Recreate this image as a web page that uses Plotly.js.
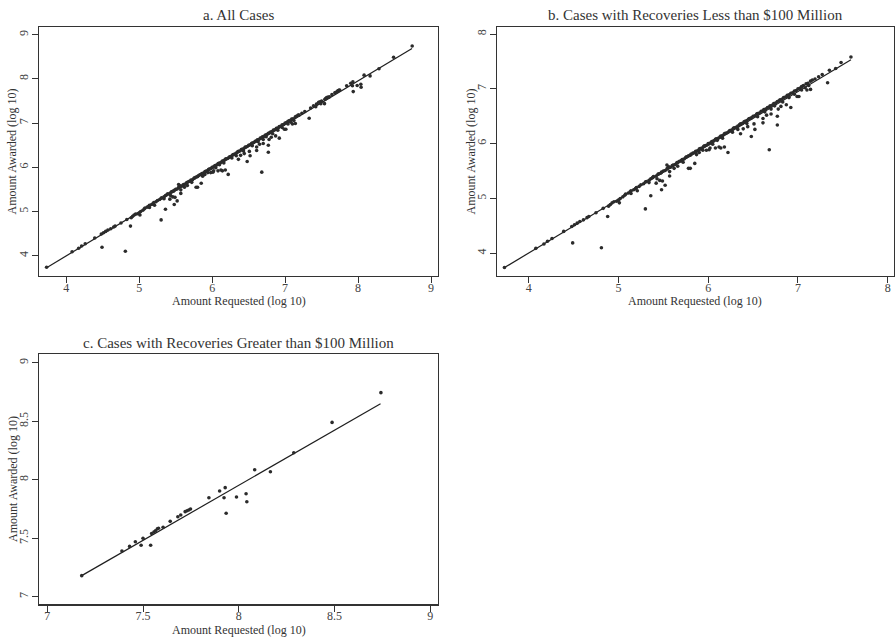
<!DOCTYPE html>
<html>
<head>
<meta charset="utf-8">
<script src="https://cdn.plot.ly/plotly-3.0.1.min.js"></script>
<style>
  html, body { margin: 0; padding: 0; background: #ffffff; }
  #chart { width: 895px; height: 638px; }
</style>
</head>
<body>
<div id="chart"></div>
<script>
// ---- Data: [amount requested, amount awarded], both log10 of dollars ----

// Cases with recoveries less than $100 million: low end, sparse
const smallLow = [
  [3.73,3.74],[4.08,4.09],[4.17,4.17],[4.21,4.22],[4.26,4.27],[4.39,4.40],[4.48,4.49],
  [4.51,4.52],[4.54,4.55],[4.57,4.58],[4.61,4.61],[4.65,4.65],[4.67,4.67],[4.75,4.74],
  [4.83,4.82],[4.89,4.86],[4.91,4.89],[4.93,4.92],[4.95,4.94],[4.98,4.95],[5.00,4.97],[5.02,5.00]
];

// Cases with recoveries less than $100 million: awarded close to requested
const smallBand = [
  [5.05,5.03],[5.07,5.06],[5.08,5.08],[5.11,5.10],[5.13,5.12],[5.14,5.14],[5.17,5.16],[5.19,5.18],
  [5.20,5.20],[5.23,5.22],[5.25,5.25],[5.28,5.27],[5.30,5.30],[5.31,5.31],[5.34,5.33],[5.36,5.36],
  [5.38,5.38],[5.39,5.40],[5.42,5.41],[5.44,5.44],[5.45,5.45],[5.47,5.46],[5.48,5.48],[5.50,5.50],
  [5.52,5.51],[5.54,5.54],[5.55,5.56],[5.56,5.58],[5.58,5.57],[5.60,5.60],[5.61,5.61],[5.63,5.62],
  [5.65,5.65],[5.66,5.66],[5.68,5.68],[5.70,5.69],[5.71,5.71],[5.73,5.72],[5.75,5.75],[5.76,5.76],
  [5.78,5.78],[5.80,5.79],[5.81,5.81],[5.83,5.83],[5.85,5.84],[5.86,5.86],[5.88,5.87],[5.90,5.90],
  [5.91,5.91],[5.93,5.92],[5.95,5.95],[5.96,5.96],[5.98,5.97],[6.00,6.00],[6.01,6.00],[6.03,6.02],
  [6.04,6.04],[6.06,6.05],[6.08,6.08],[6.09,6.09],[6.11,6.10],[6.13,6.12],[6.14,6.14],[6.16,6.15],
  [6.18,6.18],[6.19,6.19],[6.21,6.20],[6.23,6.22],[6.24,6.24],[6.26,6.25],[6.28,6.28],[6.29,6.29],
  [6.31,6.30],[6.33,6.32],[6.35,6.35],[6.36,6.36],[6.38,6.37],[6.40,6.40],[6.41,6.41],[6.43,6.42],
  [6.45,6.45],[6.46,6.46],[6.48,6.47],[6.50,6.50],[6.52,6.51],[6.54,6.54],[6.55,6.55],[6.57,6.56],
  [6.59,6.59],[6.61,6.60],[6.62,6.62],[6.64,6.63],[6.66,6.66],[6.68,6.67],[6.69,6.69],[6.71,6.70],
  [6.73,6.73],[6.75,6.74],[6.77,6.77],[6.79,6.78],[6.80,6.80],[6.82,6.81],[6.84,6.84],[6.86,6.85],
  [6.88,6.88],[6.90,6.89],[6.92,6.92],[6.94,6.93],[6.96,6.96],[6.98,6.97],[7.00,7.00],[7.02,7.01],
  [7.04,7.04],[7.06,7.06],[7.09,7.09],[7.11,7.10],[7.14,7.14],[7.16,7.16],[7.19,7.18],[7.23,7.22],
  [7.27,7.26],[7.35,7.34],[7.42,7.37],[7.48,7.48],[7.59,7.58]
];

// Cases with recoveries less than $100 million: awarded a little below requested
const smallNear = [
  [5.14,5.09],[5.21,5.14],[5.34,5.29],[5.42,5.28],[5.43,5.36],[5.46,5.33],[5.49,5.32],[5.57,5.49],
  [5.62,5.55],[5.66,5.59],[5.72,5.66],[5.87,5.80],[5.90,5.84],[5.94,5.88],[6.05,5.99],[6.10,6.06],
  [6.16,6.10],[6.27,6.21],[6.33,6.26],[6.43,6.37],[6.55,6.49],[6.63,6.58],[6.70,6.63],[6.74,6.69],
  [6.83,6.76],[6.90,6.84],[6.96,6.90],[7.04,6.98],[7.08,7.02],[7.12,7.06],[5.54,5.61]
];

// Cases with recoveries less than $100 million: awarded well below requested
const smallOff = [
  [4.49,4.19],[4.81,4.10],[4.88,4.67],[5.01,4.92],[5.30,4.81],[5.36,5.05],[5.48,5.16],[5.52,5.24],
  [5.57,5.41],[5.78,5.55],[5.80,5.55],[5.85,5.64],[5.98,5.88],[6.01,5.89],[6.02,5.92],[6.08,5.92],
  [6.12,5.94],[6.14,5.92],[6.18,5.94],[6.22,5.84],[6.36,6.18],[6.39,6.27],[6.44,6.31],[6.48,6.13],
  [6.51,6.36],[6.52,6.26],[6.61,6.46],[6.61,6.38],[6.65,6.52],[6.68,5.89],[6.70,6.54],[6.77,6.50],
  [6.77,6.34],[6.78,6.63],[6.81,6.68],[6.87,6.71],[6.92,6.66],[6.99,6.86],[7.01,6.86],[7.10,6.98],
  [7.14,6.99],[7.33,7.11]
];

// Cases with recoveries greater than $100 million
const largeCases = [
  [7.18,7.18],[7.39,7.39],[7.43,7.43],[7.46,7.47],[7.49,7.44],[7.50,7.50],[7.54,7.44],
  [7.545,7.54],[7.557,7.553],[7.565,7.564],[7.575,7.58],[7.581,7.585],[7.605,7.593],
  [7.642,7.644],[7.682,7.684],[7.697,7.698],[7.72,7.727],[7.73,7.735],[7.739,7.741],[7.748,7.75],
  [7.844,7.846],[7.90,7.903],[7.929,7.932],[7.923,7.846],[7.934,7.713],[7.988,7.852],
  [8.038,7.88],[8.042,7.812],[8.083,8.085],[8.165,8.068],[8.287,8.231],[8.487,8.49],[8.742,8.744]
];

// Fitted regression lines (endpoints, log10 requested -> log10 awarded)
const fitAllReq = [3.73, 8.74],   fitAllAward = [3.73, 8.69];
const fitSmallReq = [3.73, 7.59], fitSmallAward = [3.74, 7.53];
const fitLargeReq = [7.18, 8.74], fitLargeAward = [7.18, 8.65];

// Tick values
const ticksAllX = [4, 5, 6, 7, 8, 9],   ticksAllY = [4, 5, 6, 7, 8, 9];
const ticksSmallX = [4, 5, 6, 7, 8],    ticksSmallY = [4, 5, 6, 7, 8];
const ticksLargeX = [7, 7.5, 8, 8.5, 9], ticksLargeY = [7, 7.5, 8, 8.5, 9];

const panelTitles = [
  'a. All Cases',
  'b. Cases with Recoveries Less than $100 Million',
  'c. Cases with Recoveries Greater than $100 Million'
];
const xTitle = 'Amount Requested (log 10)';
const yTitle = 'Amount Awarded (log 10)';

// ---- Drawing ----
const W = 895, H = 638;
const FONT = 'Liberation Serif, "Times New Roman", Times, serif';
const INK = '#2b2b2b';
const px = v => v / W;
const py = v => 1 - v / H;

const smallCases = smallLow.concat(smallBand, smallNear, smallOff);
const allCases = smallCases.concat(largeCases);
const col = (arr, i) => arr.map(p => p[i]);

function pointsTrace(cases, xa, ya) {
  return {
    type: 'scatter', mode: 'markers', xaxis: xa, yaxis: ya,
    x: col(cases, 0), y: col(cases, 1),
    marker: { size: 3.6, color: INK, line: { width: 0 } },
    hoverinfo: 'skip'
  };
}
function fitTrace(xs, ys, xa, ya) {
  return {
    type: 'scatter', mode: 'lines', xaxis: xa, yaxis: ya,
    x: xs, y: ys, line: { color: '#1e1e1e', width: 1.2 }, hoverinfo: 'skip'
  };
}

const data = [
  fitTrace(fitAllReq, fitAllAward, 'x', 'y'),
  pointsTrace(allCases, 'x', 'y'),
  fitTrace(fitSmallReq, fitSmallAward, 'x2', 'y2'),
  pointsTrace(smallCases, 'x2', 'y2'),
  fitTrace(fitLargeReq, fitLargeAward, 'x3', 'y3'),
  pointsTrace(largeCases, 'x3', 'y3')
];

function axis(domain, range, ticks, anchor, isY) {
  const a = {
    domain: domain, range: range, anchor: anchor,
    tickmode: 'array', tickvals: ticks, ticktext: ticks.map(String),
    showline: true, linecolor: '#333', linewidth: 1.4, mirror: true,
    ticks: 'outside', ticklen: 6, tickwidth: 1, tickcolor: '#333',
    showgrid: false, zeroline: false, fixedrange: true,
    tickfont: { family: FONT, size: 12, color: '#444' }
  };
  if (isY) { a.tickangle = -90; a.ticklabelstandoff = -1; }
  else { a.ticklabelstandoff = -6; }
  return a;
}

const topDom = [py(276), py(27)];
const botDom = [py(604.3), py(354.3)];
const leftDom = [px(39), px(438)];
const rightDom = [px(497), px(893.5)];

function ann(text, x, y, size, angle) {
  return {
    text: text, xref: 'paper', yref: 'paper', x: px(x), y: py(y),
    xanchor: 'center', yanchor: 'middle', showarrow: false, textangle: angle || 0,
    font: { family: FONT, size: size, color: '#333' }
  };
}

const layout = {
  width: W, height: H,
  margin: { l: 0, r: 0, t: 0, b: 0 },
  paper_bgcolor: '#ffffff', plot_bgcolor: '#ffffff',
  showlegend: false,
  xaxis: axis(leftDom, [3.626, 9.096], ticksAllX, 'y', false),
  yaxis: axis(topDom, [3.541, 9.174], ticksAllY, 'x', true),
  xaxis2: axis(rightDom, [3.647, 8.064], ticksSmallX, 'y2', false),
  yaxis2: axis(topDom, [3.586, 8.128], ticksSmallY, 'x2', true),
  xaxis3: axis(leftDom, [6.957, 9.04], ticksLargeX, 'y3', false),
  yaxis3: axis(botDom, [6.935, 9.072], ticksLargeY, 'x3', true),
  annotations: [
    ann(panelTitles[0], 238.5, 15, 15),
    ann(panelTitles[1], 695, 15, 15),
    ann(panelTitles[2], 238.5, 342.5, 15),
    ann(xTitle, 238.5, 301, 12),
    ann(xTitle, 695, 301, 12),
    ann(xTitle, 238.5, 629.5, 12),
    ann(yTitle, 12, 151.5, 12, -90),
    ann(yTitle, 471, 151.5, 12, -90),
    ann(yTitle, 13.5, 479.5, 12, -90)
  ]
};

Plotly.newPlot('chart', data, layout, { staticPlot: true, displayModeBar: false });
</script>
</body>
</html>
